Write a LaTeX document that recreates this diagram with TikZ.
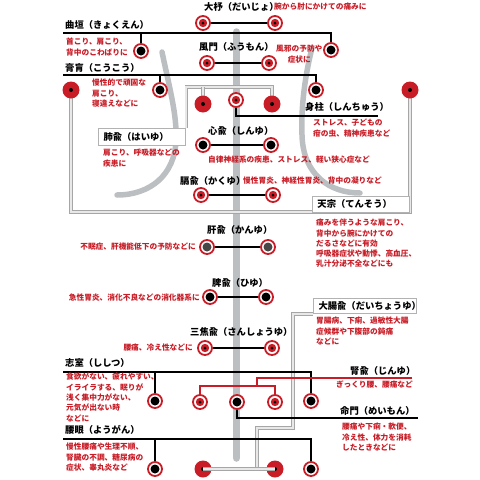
\documentclass[tikz,border=0pt]{standalone}
\usepackage{fontspec}
\setmainfont{Noto Sans CJK JP}
\definecolor{jred}{RGB}{200,28,38}
\definecolor{spg}{RGB}{188,191,194}
\pgfdeclarelayer{bg}
\pgfsetlayers{bg,main}
\tikzset{
 tring/.style={circle, minimum size=14pt, inner sep=0pt, draw=jred, line width=1.8pt, fill=white},
 rt/.style={tring, path picture={\fill[jred] (path picture bounding box.center) circle (4.2pt); \fill[black] (path picture bounding box.center) circle (1.5pt);}},
 bt/.style={tring, path picture={\fill[black] (path picture bounding box.center) circle (4.5pt);}},
 gt/.style={tring, path picture={\fill[black!72] (path picture bounding box.center) circle (4.5pt);}},
 rd/.style={circle, minimum size=17pt, inner sep=0pt, fill=jred, path picture={\fill[black] (path picture bounding box.center) circle (2pt);}},
 bl/.style={draw=black, line width=1.4pt},
 rl/.style={draw=jred, line width=1.3pt},
 gc/.style={draw=gray!70, line width=0.9pt, double=gray!18, double distance=1.3pt},
 lbl/.style={font=\fontsize{9.3}{11}\selectfont\bfseries, anchor=west, inner sep=0pt},
 rtx/.style={font=\fontsize{7.7}{10.3}\selectfont\bfseries, text=jred, align=left, anchor=north west, inner sep=0pt},
 rtx1/.style={font=\fontsize{7.7}{10.3}\selectfont\bfseries, text=jred, inner sep=0pt},
 lbox/.style={draw=gray!60, line width=1.1pt, fill=white, font=\fontsize{9.3}{11}\selectfont\bfseries, inner xsep=5pt, inner ysep=0pt, align=left},
 rib/.style={draw=spg, line width=5.5pt, line cap=round},
}
\begin{document}
\begin{tikzpicture}[x=1pt,y=-1pt]
\useasboundingbox (0,0) rectangle (480,480);
% points
\node[rt] (dj1) at (203,23) {};
\node[rt] (dj2) at (275,23) {};
\node[bt] (kk1) at (141,51) {};
\node[bt] (kk2) at (331,50) {};
\node[rt] (fm1) at (207,63) {};
\node[rt] (fm2) at (269,63) {};
\node[bt] (ko1) at (160,90) {};
\node[bt] (ko2) at (316,90) {};
\node[rd] (ts1) at (71,90) {};
\node[rd] (ts2) at (410,90) {};
\node[rd] (hy1) at (203,104) {};
\node[rd] (hy2) at (272,104) {};
\node[rt] (sc) at (236,100) {};
\node[bt] (sy1) at (203,145) {};
\node[bt] (sy2) at (271,145) {};
\node[rt] (ky1) at (201,195) {};
\node[rt] (ky2) at (273,195) {};
\node[gt] (kn1) at (207,247) {};
\node[gt] (kn2) at (268,247) {};
\node[bt] (hi1) at (210,297) {};
\node[bt] (hi2) at (266,297) {};
\node[rt] (sa1) at (205,348) {};
\node[rt] (sa2) at (272,348) {};
\node[bt] (ss1) at (155,401) {};
\node[bt] (ss2) at (311,401) {};
\node[rt] (jy1) at (200,402) {};
\node[rt] (jy2) at (275,402) {};
\node[bt] (mm) at (237,402) {};
\node[bt] (yg1) at (155,469) {};
\node[bt] (yg2) at (311,469) {};
\node[rd] (dc1) at (203,469) {};
\node[rd] (dc2) at (275,469) {};
% boxes
\node[lbox, text width=77pt, minimum height=17pt, anchor=north west] (haibox) at (98,128) {肺兪（はいゆ）};
\node[lbox, text width=87pt, minimum height=16pt, anchor=south east] (tenbox) at (410,213) {天宗（てんそう）};
\node[lbox, text width=93pt, minimum height=15pt, anchor=south west] (daibox) at (313,314) {大腸兪（だいちょうゆ）};
% free ends
\coordinate (kkS) at (63,33);
\coordinate (koS) at (63,75);
\coordinate (scE) at (378,116);
\coordinate (ssS) at (63,372);
\coordinate (jyE) at (412,378);
\coordinate (mmE) at (418,418);
\coordinate (ygS) at (63,439);
\begin{pgfonlayer}{bg}
 \draw[draw=spg, line width=7.5pt, line cap=round] (236.5,32) -- (236.5,458);
 \draw[rib] (162,52) .. controls (170,90) and (177,115) .. (176,140) .. controls (175,175) and (150,195) .. (117,195);
 \draw[rib] (312,48) .. controls (304,80) and (301,110) .. (302,135) .. controls (303,175) and (330,193) .. (360,193);
 % connectors
 \draw[bl] (dj1) -- (dj2);
 \draw[bl] (kkS) -| (kk2);
 \draw[bl] (kk1) -- (kk1 |- kkS);
 \draw[bl] (fm1) -- (fm2);
 \draw[bl] (koS) -| (ko2);
 \draw[bl] (ko1) -- (ko1 |- koS);
 \draw[gc] (ts1.center) -- (ts1 |- 0,212) -- (ts2 |- 0,212) -- (ts2.center);
 \draw[gc] (haibox.north east) -- ++(0,-41) -| (hy2.center);
 \draw[gc] (hy1.center) -- (hy1 |- 0,87);
 \draw[bl] (sc) |- (scE);
 \draw[bl] (sy1) -- (sy2);
 \draw[bl] (ky1) -- (ky2);
 \draw[bl] (kn1) -- (kn2);
 \draw[bl] (hi1) -- (hi2);
 \draw[bl] (sa1) -- (sa2);
 \draw[gc] (daibox.south west) -| (293,428) -| (257,469);
 \draw[bl] (ssS) -| (ss2);
 \draw[bl] (ss1) -- (ss1 |- ssS);
 \draw[rl] (jyE) -- (257,378) -- (257,386);
 \draw[rl] (jy1) -- ++(0,-16) -| (jy2);
 \draw[bl] (mm) |- (mmE);
 \draw[bl] (ygS) -| (yg2);
 \draw[bl] (yg1) -- (yg1 |- ygS);
\end{pgfonlayer}
\draw[gc] (dc1.center) -- (dc2.center);
% labels
\node[lbl] (lDJ) at (204,7) {大杼（だいじょ）};
\node[rtx1, anchor=west] (nDJ) at (274,7) {腕から肘にかけての痛みに};
\node[lbl] (lKK) at (65,25) {曲垣（きょくえん）};
\node[rtx] (nKK) at (66,38) {首こり、肩こり、\\背中のこわばりに};
\node[lbl] (lFM) at (199,47) {風門（ふうもん）};
\node[rtx, align=center] (nFM) at (276,45) {風邪の予防や\\症状に};
\node[lbl] (lKO) at (65,68) {膏肓（こうこう）};
\node[rtx] (nKO) at (92,79) {慢性的で頑固な\\肩こり、\\寝違えなどに};
\node[lbl] (lSC) at (305,107) {身柱（しんちゅう）};
\node[rtx] (nSC) at (313,119) {ストレス、子どもの\\疳の虫、精神疾患など};
\node[rtx] (nHY) at (103,149) {肩こり、呼吸器などの\\疾患に};
\node[lbl] (lSY) at (208,131) {心兪（しんゆ）};
\node[rtx1, anchor=west] (nSY) at (208,160) {自律神経系の疾患、ストレス、軽い狭心症など};
\node[lbl] (lKY) at (180,181) {膈兪（かくゆ）};
\node[rtx1, anchor=west] (nKY) at (243,181) {慢性胃炎、神経性胃炎、背中の凝りなど};
\node[rtx] (nTS) at (316,219) {痛みを伴うような肩こり、\\背中から腕にかけての\\だるさなどに有効\\呼吸器症状や動悸、高血圧、\\乳汁分泌不全などにも};
\node[lbl] (lKN) at (207,230) {肝兪（かんゆ）};
\node[rtx1, anchor=east] (nKN) at (196,247) {不眠症、肝機能低下の予防などに};
\node[lbl] (lHI) at (212,283) {脾兪（ひゆ）};
\node[rtx1, anchor=east] (nHI) at (200,298) {急性胃炎、消化不良などの消化器系に};
\node[lbl] (lSA) at (190,332) {三焦兪（さんしょうゆ）};
\node[rtx1, anchor=east] (nSA) at (193,348) {腰痛、冷え性などに};
\node[rtx] (nDC) at (316,317) {胃腸病、下痢、過敏性大腸\\症候群や下腹部の鈍痛\\などに};
\node[lbl] (lSS) at (65,363) {志室（ししつ）};
\node[rtx] (nSS) at (66,373) {食欲がない、疲れやすい、\\イライラする、眠りが\\浅く集中力がない、\\元気が出ない時\\などに};
\node[lbl] (lJY) at (350,371) {腎兪（じんゆ）};
\node[rtx1, anchor=west] (nJY) at (336,385) {ぎっくり腰、腰痛など};
\node[lbl] (lMM) at (340,411) {命門（めいもん）};
\node[rtx] (nMM) at (342,423) {腰痛や下痢・軟便、\\冷え性、体力を消耗\\したときなどに};
\node[lbl] (lYG) at (65,430) {腰眼（ようがん）};
\node[rtx] (nYG) at (66,443) {慢性腰痛や生理不順、\\腎臓の不調、糖尿病の\\症状、睾丸炎など};
\end{tikzpicture}
\end{document}
